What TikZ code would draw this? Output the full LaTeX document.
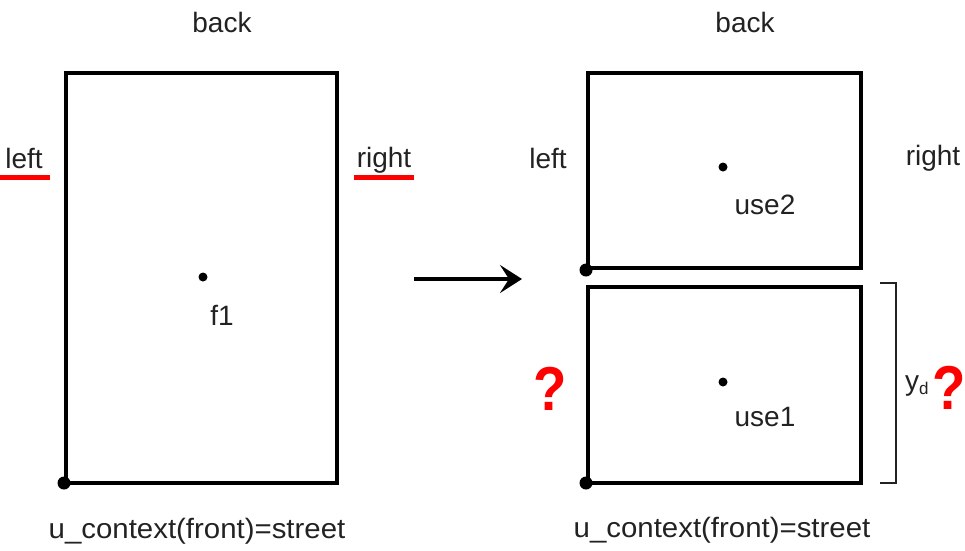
\documentclass[tikz,border=0pt]{standalone}
\usepackage{fontspec}
\setmainfont{Liberation Sans}
\usetikzlibrary{arrows.meta}
\definecolor{txt}{HTML}{222222}
\definecolor{mark}{HTML}{FF0000}
\begin{document}
\begin{tikzpicture}[x=1pt,y=-1pt,
  lbl/.style={text=txt,font=\fontsize{28}{31}\selectfont,inner sep=0pt},
  plot/.style={draw=black,line width=4pt},
  pt/.style={circle,fill=black,inner sep=0pt,minimum size=#1},
  pt/.default=9pt,
  under/.style={draw=mark,line width=5pt},
  query/.style={text=mark,font=\fontsize{62}{66}\selectfont\bfseries,inner sep=0pt,xscale=0.88}]
\useasboundingbox (0,0) rectangle (965,550);

% original parcel
\node[lbl] (backA) at (222,22) {back};
\draw[plot] (66,73) rectangle (337,483);
\node[pt=13pt] (cornerA) at (64,483) {};
\node[pt] (f1) at (203,277) {};
\node[lbl] (f1l) at (222,315) {f1};
\node[lbl] (leftA) at (24,158) {left};
\node[lbl] (rightA) at (384,160) {right};
\coordinate (ulA1) at (0,177);
\coordinate (ulA2) at (50,177);
\coordinate (urA1) at (354,177);
\coordinate (urA2) at (414,177);
\draw[under] (ulA1) -- (ulA2);
\draw[under] (urA1) -- (urA2);
\node[lbl,xscale=1.05] (ctxA) at (197,531) {u\_context(front)=street};

% transformation arrow
\coordinate (arrS) at (414,279);
\coordinate (arrE) at (522,279);
\draw[line width=4pt,-{Stealth[length=22pt,width=28pt,inset=9pt]}] (arrS) -- (arrE);

% split parcels
\node[lbl] (backB) at (745,22) {back};
\draw[plot] (588,73) rectangle (861,268);
\draw[plot] (588,287) rectangle (861,483);
\node[pt=13pt] (cornerB) at (586,270) {};
\node[pt=13pt] (cornerC) at (586,483) {};
\node[pt] (use2) at (723,167) {};
\node[lbl] (use2l) at (765,205) {use2};
\node[pt] (use1) at (723,382) {};
\node[lbl] (use1l) at (765,417) {use1};
\node[lbl] (leftB) at (548,158) {left};
\node[lbl] (rightB) at (933,158) {right};
\node[lbl,xscale=1.05] (ctxB) at (722,530) {u\_context(front)=street};

% depth bracket
\coordinate (brT) at (880,283);
\coordinate (brB) at (880,483);
\draw[draw=txt,line width=1.5pt] (brT) -- ++(16,0) |- (brB);
\node[lbl] (yd) at (917,386) {y\textsubscript{\fontsize{17}{19}\selectfont d}};

\node[query] (q1) at (550,389) {?};
\node[query] (q2) at (949,388) {?};
\end{tikzpicture}
\end{document}
